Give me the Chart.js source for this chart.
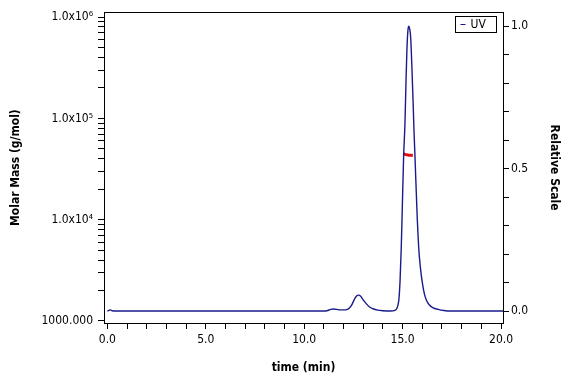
<!DOCTYPE html>
<html>
<head>
<meta charset="utf-8">
<script src="https://cdn.jsdelivr.net/npm/chart.js@4.4.1/dist/chart.umd.min.js"></script>
<style>
  html, body { margin: 0; padding: 0; background: #fff; }
</style>
</head>
<body>
<canvas id="chart" width="576" height="384"></canvas>
<script>
// UV trace, relative scale
const uvTime = [0.00, 0.08, 0.15, 0.25, 0.40, 5.0, 10.0, 11.0, 11.2, 11.35, 11.5, 11.65, 11.8, 12.0, 12.2,
  12.38, 12.55, 12.65, 12.76, 12.87, 12.98, 13.15, 13.32, 13.49, 13.74, 14.0, 14.4, 14.6, 14.7, 14.76,
  14.81, 14.87, 14.93, 14.98, 15.05, 15.12, 15.17, 15.22, 15.27, 15.31, 15.36, 15.41, 15.47, 15.53, 15.58,
  15.63, 15.73, 15.82, 15.90, 15.99, 16.10, 16.21, 16.35, 16.55, 16.8, 17.1, 17.4, 20.1];
const uvValue = [0.000, 0.002, 0.004, 0.001, 0.000, 0.000, 0.000, 0.000, 0.002, 0.006, 0.007, 0.006, 0.004, 0.004, 0.006,
  0.017, 0.041, 0.052, 0.056, 0.052, 0.041, 0.026, 0.014, 0.008, 0.003, 0.001, 0.000, 0.002, 0.008, 0.020,
  0.040, 0.105, 0.22, 0.35, 0.54, 0.66, 0.80, 0.92, 0.985, 1.000, 0.99, 0.96, 0.86, 0.74, 0.63,
  0.54, 0.35, 0.22, 0.155, 0.105, 0.062, 0.038, 0.022, 0.011, 0.006, 0.002, 0.000, 0.000];

// molar mass across the main peak (g/mol)
const massTime = [15.03, 15.12, 15.22, 15.32, 15.42, 15.52];
const massValue = [45000, 44200, 43700, 43400, 43200, 43000];

// tick labels
const massTicks = [1000, 10000, 100000, 1000000];
const massTickLabels = ["1000.000", "1.0x10\u2074", "1.0x10\u2075", "1.0x10\u2076"];
const timeTicks = [0, 5, 10, 15, 20];
const relTicks = [0, 0.5, 1];

const legendLabel = "UV";

Chart.defaults.font.family = "'DejaVu Sans Condensed', 'DejaVu Sans', sans-serif";
Chart.defaults.font.size = 12;
Chart.defaults.color = "#000";

const boxPlugin = {
  id: "box",
  afterDraw(chart) {
    const { ctx, chartArea: a } = chart;
    ctx.save();
    ctx.strokeStyle = "#000";
    ctx.lineWidth = 1;
    ctx.strokeRect(Math.round(a.left) + 0.5, Math.round(a.top) + 0.5,
      Math.round(a.right - a.left), Math.round(a.bottom - a.top));

    // legend box, top right inside the plot
    const bx = Math.round(a.right) - 47.5, by = Math.round(a.top) + 4.5;
    ctx.fillStyle = "#fff";
    ctx.fillRect(bx, by, 41, 16);
    ctx.strokeRect(bx, by, 41, 16);
    ctx.strokeStyle = "#1a1a8c";
    ctx.beginPath();
    ctx.moveTo(bx + 5, by + 8);
    ctx.lineTo(bx + 10, by + 8);
    ctx.stroke();
    ctx.fillStyle = "#000";
    ctx.font = "12px 'DejaVu Sans Condensed', 'DejaVu Sans', sans-serif";
    ctx.textBaseline = "middle";
    ctx.fillText(legendLabel, bx + 15, by + 8.5);
    ctx.restore();
  }
};

const tickGrid = { drawOnChartArea: false, drawTicks: true, tickLength: 6, tickColor: "#000", color: "#000" };
const titleFont = { family: "'DejaVu Sans Condensed', 'DejaVu Sans', sans-serif", size: 12, weight: "bold" };

new Chart(document.getElementById("chart"), {
  type: "line",
  data: {
    datasets: [
      {
        label: legendLabel,
        data: uvTime.map((t, i) => ({ x: t, y: uvValue[i] })),
        yAxisID: "y1",
        borderColor: "#1a1a8c",
        borderWidth: 1.4,
        pointRadius: 0,
        cubicInterpolationMode: "monotone",
        fill: false
      },
      {
        label: "Molar Mass",
        data: massTime.map((t, i) => ({ x: t, y: massValue[i] })),
        yAxisID: "y",
        borderColor: "#e01010",
        borderWidth: 3,
        pointRadius: 0,
        fill: false
      }
    ]
  },
  options: {
    responsive: false,
    animation: false,
    layout: { padding: { top: 10, left: 0, right: 0, bottom: 0 } },
    plugins: { legend: { display: false }, tooltip: { enabled: false } },
    scales: {
      x: {
        type: "linear",
        min: -0.17,
        max: 20.1,
        grid: tickGrid,
        border: { color: "#000" },
        afterBuildTicks(scale) {
          const t = [];
          for (let v = 0; v <= 20; v++) t.push({ value: v });
          scale.ticks = t;
        },
        afterFit(scale) { scale.height = 61; },
        ticks: {
          autoSkip: false, maxRotation: 0, padding: 4,
          callback: v => timeTicks.includes(v) ? v.toFixed(1) : ""
        },
        title: { display: true, text: "time (min)", font: titleFont, padding: { top: 0, bottom: 9 } }
      },
      y: {
        type: "logarithmic",
        position: "left",
        min: 955,
        max: 1120000,
        grid: tickGrid,
        border: { color: "#000" },
        afterBuildTicks(scale) {
          const t = [];
          for (let d = 1000; d < 1000000; d *= 10) {
            for (let m = 1; m <= 9; m++) t.push({ value: d * m });
          }
          t.push({ value: 1000000 });
          scale.ticks = t;
        },
        afterFit(scale) { scale.width = 104; },
        ticks: {
          autoSkip: false, padding: 5,
          callback: v => {
            const i = massTicks.indexOf(v);
            return i >= 0 ? massTickLabels[i] : "";
          }
        },
        title: { display: true, text: "Molar Mass (g/mol)", font: titleFont, padding: { top: 9, bottom: 0 } }
      },
      y1: {
        type: "linear",
        position: "right",
        min: -0.042,
        max: 1.049,
        grid: tickGrid,
        border: { color: "#000" },
        afterBuildTicks(scale) {
          const t = [];
          for (let k = 0; k <= 10; k++) t.push({ value: k / 10 });
          scale.ticks = t;
        },
        afterFit(scale) { scale.width = 73; },
        ticks: {
          autoSkip: false, padding: 2,
          callback: v => relTicks.some(r => Math.abs(r - v) < 1e-9) ? v.toFixed(1) : ""
        },
        title: { display: true, text: "Relative Scale", font: titleFont, padding: { top: 15, bottom: 0 } }
      }
    }
  },
  plugins: [boxPlugin]
});
</script>
</body>
</html>
